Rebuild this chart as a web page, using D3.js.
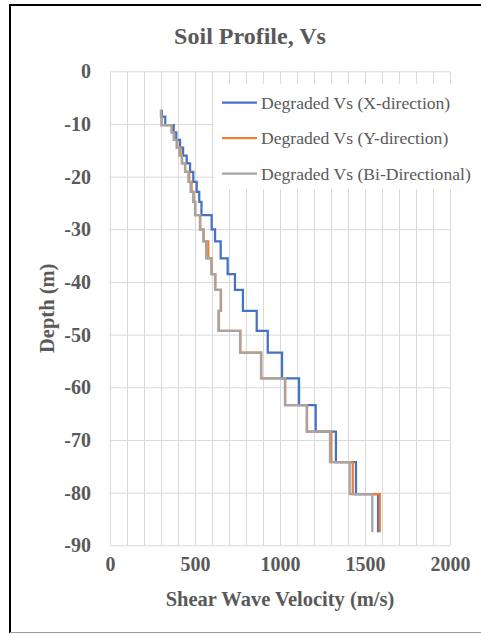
<!DOCTYPE html>
<html>
<head>
<meta charset="utf-8">
<script src="https://cdn.jsdelivr.net/npm/d3@7"></script>
<style>
    html, body { margin: 0; padding: 0; background: #fff; }
    svg { display: block; }
    text { font-family: "Liberation Serif", "Times New Roman", serif; fill: #595959; }
</style>
</head>
<body>
<div id="chart"></div>
<script>
// Layer boundaries (m, negative = below surface)
const layerDepths = [-7.3, -8.6, -10.2, -11.6, -13.0, -14.5, -16.0, -17.5, -19.1, -21.0, -22.9, -24.8,
    -27.3, -30.0, -32.3, -35.5, -38.5, -41.5, -45.5, -49.3, -53.4, -58.3, -63.4, -68.4, -74.2, -80.3, -87.5];

// Vs per layer (m/s)
const vsX = [305, 325, 375, 390, 412, 430, 451, 471, 490, 510, 525, 538,
    598, 618, 651, 692, 735, 782, 863, 928, 1012, 1112, 1210, 1329, 1447, 1577];
const vsY = [300, 304, 364, 377, 394, 415, 424, 443, 466, 480, 492, 502,
    531, 551, 578, 598, 620, 653, 640, 767, 890, 1031, 1159, 1302, 1428, 1587];
const vsBi = [300, 303, 362, 375, 392, 408, 422, 441, 461, 474, 490, 500,
    529, 549, 565, 596, 618, 651, 638, 765, 888, 1029, 1157, 1294, 1410, 1543];

const seriesNames = ['Degraded Vs (X-direction)', 'Degraded Vs (Y-direction)', 'Degraded Vs (Bi-Directional)'];
const seriesColors = ['#4472C4', '#ED7D31', '#A5A5A5'];

const xTicks = [0, 500, 1000, 1500, 2000];
const yTicks = [0, -10, -20, -30, -40, -50, -60, -70, -80, -90];

const width = 481, height = 634;
const plot = { left: 110, right: 450, top: 71.3, bottom: 545.3 };

const svg = d3.select('#chart').append('svg')
    .attr('width', width)
    .attr('height', height);

const x = d3.scaleLinear().domain([0, 2000]).range([plot.left, plot.right]);
const y = d3.scaleLinear().domain([0, -90]).range([plot.top, plot.bottom]);

// Frame
svg.append('line').attr('x1', 10).attr('x2', 10).attr('y1', 4).attr('y2', 633)
    .attr('stroke', '#000').attr('stroke-width', 2);
svg.append('line').attr('x1', 9).attr('x2', 481).attr('y1', 5).attr('y2', 5)
    .attr('stroke', '#000').attr('stroke-width', 2);
svg.append('line').attr('x1', 10).attr('x2', 481).attr('y1', 632.5).attr('y2', 632.5)
    .attr('stroke', '#999').attr('stroke-width', 1);

// Gridlines
const grid = svg.append('g');
grid.append('g')
    .attr('transform', `translate(0,${plot.bottom})`)
    .call(d3.axisBottom(x).tickValues(d3.range(0, 2001, 100)).tickSize(-(plot.bottom - plot.top)).tickFormat(''))
    .call(g => g.select('.domain').remove())
    .call(g => g.selectAll('line').attr('stroke', '#D9D9D9').attr('stroke-width', 1));
grid.append('g')
    .attr('transform', `translate(${plot.left},0)`)
    .call(d3.axisLeft(y).tickValues(yTicks).tickSize(-(plot.right - plot.left)).tickFormat(''))
    .call(g => g.select('.domain').remove())
    .call(g => g.selectAll('line').attr('stroke', '#D9D9D9').attr('stroke-width', 1));

// Tick labels (plain hyphen minus, no thousands separator)
const plainFormat = d => String(d);

svg.append('g')
    .attr('transform', `translate(${plot.left},0)`)
    .call(d3.axisLeft(y).tickValues(yTicks).tickSize(0).tickPadding(19).tickFormat(plainFormat))
    .call(g => g.select('.domain').remove())
    .call(g => g.selectAll('text')
        .style('font-family', '"Liberation Serif", "Times New Roman", serif')
        .style('font-size', '20px').style('font-weight', 'bold').attr('fill', '#595959'));

svg.append('g')
    .attr('transform', `translate(0,${plot.bottom})`)
    .call(d3.axisBottom(x).tickValues(xTicks).tickSize(0).tickPadding(12).tickFormat(plainFormat))
    .call(g => g.select('.domain').remove())
    .call(g => g.selectAll('text')
        .style('font-family', '"Liberation Serif", "Times New Roman", serif')
        .style('font-size', '20px').style('font-weight', 'bold').attr('fill', '#595959'));

// Series
const toPoints = vals => vals.flatMap((v, i) => [[v, layerDepths[i]], [v, layerDepths[i + 1]]]);
const line = d3.line().x(d => x(d[0])).y(d => y(d[1]));

[vsX, vsY, vsBi].forEach((vals, i) => {
    svg.append('path')
        .datum(toPoints(vals))
        .attr('fill', 'none')
        .attr('stroke', seriesColors[i])
        .attr('stroke-width', 2.25)
        .attr('stroke-linejoin', 'miter')
        .attr('d', line);
});

// Legend
const legend = svg.append('g');
legend.append('rect')
    .attr('x', 214).attr('y', 84).attr('width', 264).attr('height', 105)
    .attr('fill', '#fff');
seriesNames.forEach((name, i) => {
    const ly = 102.5 + i * 35.5;
    legend.append('line')
        .attr('x1', 222).attr('x2', 257).attr('y1', ly).attr('y2', ly)
        .attr('stroke', seriesColors[i]).attr('stroke-width', 2.25);
    legend.append('text')
        .attr('x', 261).attr('y', ly + 6)
        .style('font-size', '17.6px')
        .text(name);
});

// Titles
svg.append('text')
    .attr('x', 250).attr('y', 44)
    .attr('text-anchor', 'middle')
    .style('font-size', '24px').style('font-weight', 'bold')
    .text('Soil Profile, Vs');

svg.append('text')
    .attr('x', (plot.left + plot.right) / 2).attr('y', 606)
    .attr('text-anchor', 'middle')
    .style('font-size', '20.5px').style('font-weight', 'bold')
    .text('Shear Wave Velocity (m/s)');

svg.append('text')
    .attr('transform', `translate(54,${(plot.top + plot.bottom) / 2}) rotate(-90)`)
    .attr('text-anchor', 'middle')
    .style('font-size', '20.5px').style('font-weight', 'bold')
    .text('Depth (m)');
</script>
</body>
</html>
